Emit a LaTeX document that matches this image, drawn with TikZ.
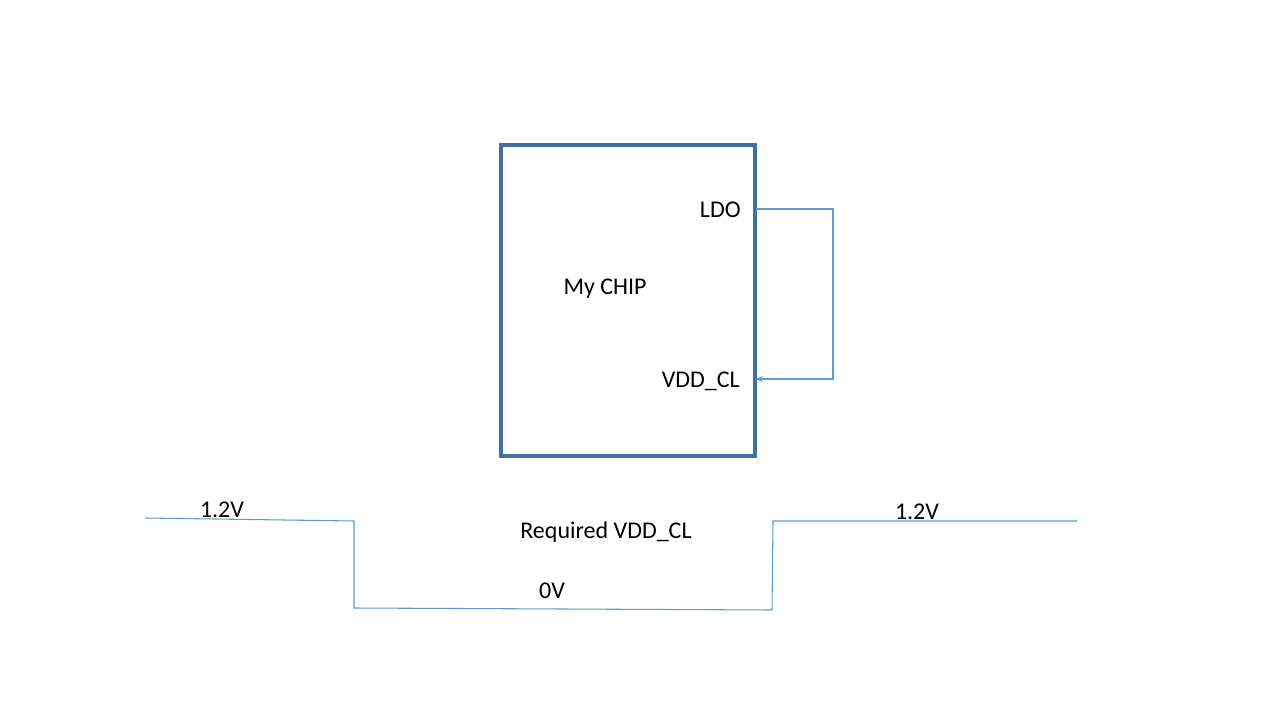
\documentclass[tikz,border=0pt]{standalone}
\usepackage{fontspec}
\setmainfont{Carlito}
\usetikzlibrary{arrows.meta,positioning}
\definecolor{chipEdge}{RGB}{65,113,156}
\definecolor{wireBlue}{RGB}{91,155,213}
\tikzset{
  lbl/.style={font=\fontsize{18}{21}\selectfont,inner sep=0pt,text=black},
  wire/.style={wireBlue,line width=1.1pt},
  wave/.style={wireBlue,line width=0.8pt,line join=miter}
}
\begin{document}
\begin{tikzpicture}[x=0.75pt,y=-0.75pt]
  \useasboundingbox (0,0) rectangle (1280,720);
  % la puce
  \draw[chipEdge,line width=2.5pt] (501,145) rectangle (755,456);
  \node[lbl] (chip) at (605,289) {My CHIP};
  \node[lbl,anchor=east] (ldo) at (741,210) {LDO};
  \node[lbl,anchor=east] (vdd) at (740,381) {VDD\_CL};
  \coordinate (ldoPin) at (756,209);
  \coordinate (vddPin) at (756,379);
  \coordinate (loopTop) at (833,209);
  \coordinate (loopBot) at (833,379);
  % boucle LDO -> VDD_CL
  \draw[wire,-{Stealth[length=5pt,width=4.5pt]}] (ldoPin) -- (loopTop) -- (loopBot) -- (vddPin);
  % forme d'onde demandee
  \coordinate (w0) at (145,518);
  \coordinate (w1) at (354,521);
  \coordinate (w2) at (354,608);
  \coordinate (w3) at (772,610);
  \coordinate (w4) at (773,521);
  \coordinate (w5) at (1077,521);
  \draw[wave] (w0) -- (w1) -- (w2) -- (w3) -- (w4) -- (w5);
  \node[lbl] (highL) at (222,510) {1.2V};
  \node[lbl] (highR) at (917,512) {1.2V};
  \node[lbl] (req) at (606,532) {Required VDD\_CL};
  \node[lbl] (low) at (552,591) {0V};
\end{tikzpicture}
\end{document}
